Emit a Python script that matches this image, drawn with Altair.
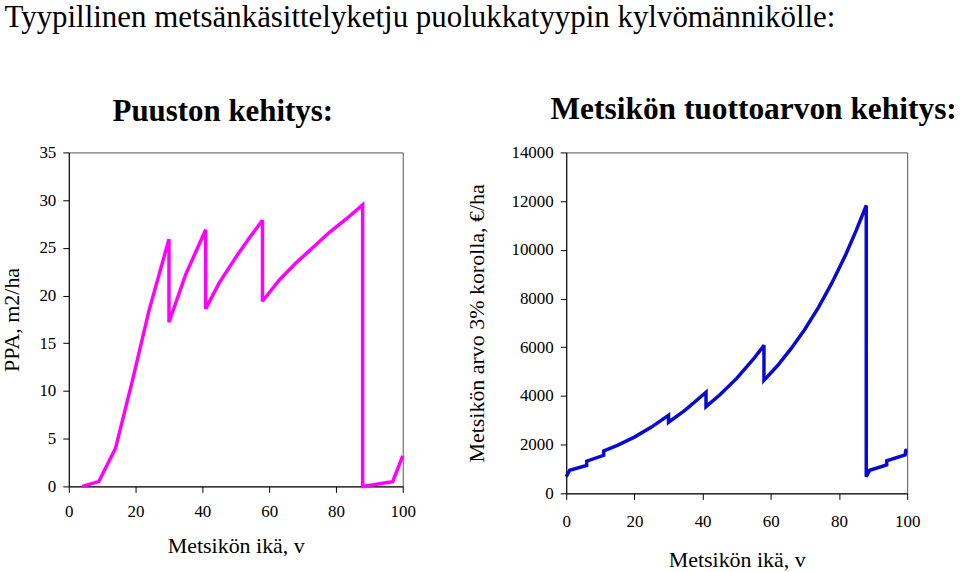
import altair as alt
import pandas as pd

# Left panel: basal area (PPA, m2/ha) vs stand age
ppa_age = [4, 9, 14, 19, 24, 30, 30, 35, 41, 41, 45, 50, 54, 58, 58, 63, 68, 73, 78, 83, 88, 88, 97, 100]
ppa_val = [0, 0.5, 4.0, 11.0, 18.4, 25.9, 17.2, 22.2, 26.9, 18.6, 21.3, 24.0, 26.0, 27.9, 19.4, 21.6, 23.4, 25.0, 26.6, 28.0, 29.5, 0, 0.5, 3.2]

# Right panel: stand value at 3% interest (EUR/ha) vs stand age
val_age = [0, 1, 6, 6, 11, 11, 15, 20, 25, 30, 30, 35, 41, 41, 45, 50, 55, 58, 58, 62, 66, 70, 74, 78, 82, 85, 88,
           88, 89, 94, 94, 99.4, 99.6, 100]
val_eur = [680, 950, 1150, 1320, 1560, 1740, 1970, 2310, 2720, 3200, 2920, 3430, 4150, 3560, 4040, 4720, 5530, 6080, 4640,
           5250, 5950, 6740, 7640, 8660, 9810, 10780, 11820,
           680, 950, 1170, 1340, 1580, 1760, 1790]

x_ticks = [0, 20, 40, 60, 80, 100]
ppa_ticks = [0, 5, 10, 15, 20, 25, 30, 35]
eur_ticks = [0, 2000, 4000, 6000, 8000, 10000, 12000, 14000]

df_l = pd.DataFrame({"x": ppa_age, "y": ppa_val, "i": range(len(ppa_age))})
df_r = pd.DataFrame({"x": val_age, "y": val_eur, "i": range(len(val_age))})

SERIF = "Liberation Serif"

def axis(values, title, title_pad, label_pad=7):
    return alt.Axis(values=values, title=title, grid=False, tickSize=6, labelPadding=label_pad,
                    titlePadding=title_pad, labelFlush=False, labelOverlap=False, format="d",
                    labelFont=SERIF, labelFontSize=17, titleFont=SERIF, titleFontSize=22,
                    titleFontWeight="normal")

left = alt.Chart(df_l).mark_line(color="#FF00FF", strokeWidth=3.5, strokeJoin="miter", strokeMiterLimit=3).encode(
    x=alt.X("x:Q", scale=alt.Scale(domain=[0, 100], nice=False),
            axis=axis(x_ticks, "Metsikön ikä, v", 16, label_pad=11)),
    y=alt.Y("y:Q", scale=alt.Scale(domain=[0, 35], nice=False),
            axis=axis(ppa_ticks, "PPA, m2/ha", 15)),
    order="i:Q",
).properties(width=335, height=335,
             title=alt.TitleParams("Puuston kehitys:", font=SERIF, fontSize=31, fontWeight="bold",
                                   anchor="middle", frame="group", dx=-13, offset=16, color="black"))

right = alt.Chart(df_r).mark_line(color="#0A0ACF", strokeWidth=3.5, strokeJoin="miter", strokeMiterLimit=3).encode(
    x=alt.X("x:Q", scale=alt.Scale(domain=[0, 100], nice=False),
            axis=axis(x_ticks, "Metsikön ikä, v", 20, label_pad=14)),
    y=alt.Y("y:Q", scale=alt.Scale(domain=[0, 14000], nice=False),
            axis=axis(eur_ticks, "Metsikön arvo 3% korolla, €/ha", 22)),
    order="i:Q",
).properties(width=342, height=342,
             title=alt.TitleParams("Metsikön tuottoarvon kehitys:", font=SERIF, fontSize=31.5, fontWeight="bold",
                                   anchor="middle", frame="group", dx=17, offset=18, color="black"))

chart = alt.hconcat(left, right, spacing=49).properties(
    title=alt.TitleParams("Tyypillinen metsänkäsittelyketju puolukkatyypin kylvömännikölle:",
                          font=SERIF, fontSize=31, fontWeight="normal", anchor="start",
                          offset=60, color="black", dx=4),
    padding={"left": 0, "top": 1, "right": 2, "bottom": 2},
    background="white",
).configure_axis(
    domainColor="black", tickColor="black", labelColor="black", titleColor="black",
    domainWidth=1, tickWidth=1,
).configure_title(font=SERIF).configure_view(stroke="#555", strokeWidth=1)

chart.save("out.html", embed_options={"renderer": "svg", "actions": False})
